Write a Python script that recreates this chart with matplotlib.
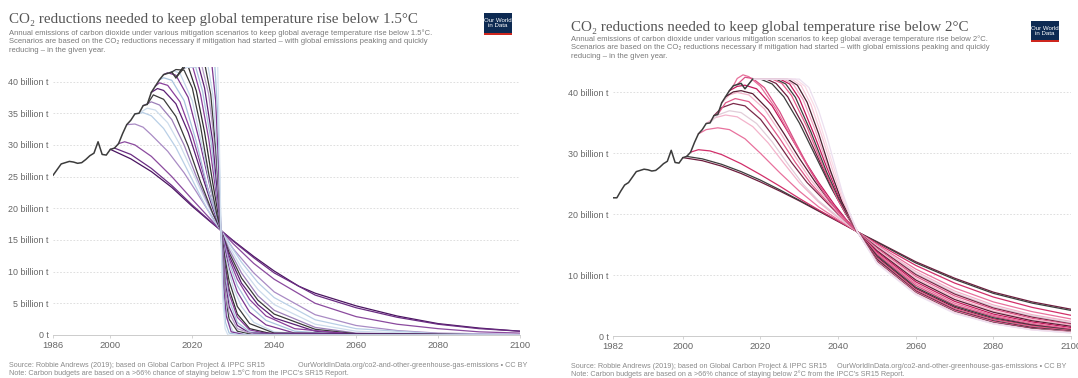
"""
CO2 reductions needed to keep global temperature rise below 1.5C / 2C
Two-panel recreation of the OWID mitigation curves chart.
"""
import matplotlib
matplotlib.use("Agg")
import matplotlib.pyplot as plt
from matplotlib.patches import Rectangle

W, H = 1078, 378

# ---- historical emissions (billion t CO2) ----
hist_years = list(range(1982, 2019))
hist_co2 = [22.7, 22.7, 23.8, 24.8, 25.2, 26.1, 27.0, 27.2, 27.4, 27.3,
            27.1, 27.2, 27.7, 28.3, 28.7, 30.5, 28.5, 28.4, 29.3, 29.5,
            30.2, 31.8, 33.2, 33.9, 34.9, 35.0, 36.2, 36.4, 38.3, 39.3,
            40.3, 41.1, 41.3, 41.5, 40.6, 41.4, 42.2]

# ---- 1.5C scenarios: one (years, values) pair per mitigation start ----
scen15_years = [
    [2000, 2005, 2010, 2015, 2020, 2024, 2027, 2030, 2035, 2040, 2046, 2050, 2060, 2070, 2080, 2090, 2100],
    [2001, 2005, 2010, 2015, 2020, 2024, 2027, 2030, 2035, 2040, 2050, 2060, 2070, 2080, 2090, 2100],
    [2002, 2003.5, 2006, 2010, 2015, 2020, 2024, 2027, 2030, 2035, 2040, 2050, 2060, 2070, 2080, 2090, 2100],
    [2004, 2006, 2008, 2010, 2014, 2018, 2021, 2024, 2027, 2030, 2035, 2040, 2050, 2060, 2070, 2080, 2100],
    [2006, 2008, 2010, 2013, 2016, 2019, 2022, 2025, 2027, 2029, 2032, 2036, 2040, 2050, 2060, 2080, 2100],
    [2007, 2009, 2011, 2014, 2017, 2020, 2023, 2027, 2029, 2032, 2036, 2040, 2050, 2060, 2080, 2100],
    [2008, 2010, 2012, 2015, 2018, 2021, 2024, 2027, 2029, 2032, 2036, 2040, 2050, 2060, 2080, 2100],
    [2009, 2010.5, 2013, 2016, 2019, 2022, 2025, 2027, 2029, 2032, 2036, 2040, 2050, 2060, 2100],
    [2010, 2011.5, 2013, 2016, 2019, 2022, 2025, 2027, 2029, 2032, 2036, 2040, 2050, 2060, 2100],
    [2011, 2012, 2014, 2017, 2020, 2023, 2025, 2027, 2029, 2031, 2034, 2038, 2045, 2060, 2100],
    [2012, 2013, 2015, 2018, 2021, 2024, 2027, 2029, 2031, 2034, 2038, 2045, 2060, 2100],
    [2013, 2014, 2016, 2019, 2022, 2025, 2027, 2029, 2031, 2034, 2038, 2045, 2100],
    [2014, 2015.5, 2017, 2020, 2023, 2025, 2027, 2028, 2030, 2032, 2035, 2040, 2050, 2100],
    [2015, 2016, 2018, 2020, 2022, 2024, 2026, 2027, 2028, 2029, 2031, 2034, 2040, 2100],
    [2016, 2017, 2018, 2019, 2021, 2023, 2025, 2027, 2028, 2029, 2031, 2034, 2040, 2100],
    [2018, 2019, 2020, 2022, 2024, 2026, 2027, 2028, 2029, 2031, 2034, 2040, 2100],
    [2018, 2020, 2020.7, 2022.5, 2024.5, 2026, 2027, 2028, 2029, 2031, 2034, 2040, 2100],
    [2018, 2021, 2021.5, 2023, 2025, 2026.2, 2027, 2028, 2029, 2031, 2034, 2100],
    [2018, 2022, 2022.3, 2024, 2025.5, 2026.5, 2027, 2028, 2029, 2031, 2035, 2100],
    [2018, 2022.8, 2023.1, 2024.5, 2025.8, 2026.6, 2027, 2028, 2029, 2031, 2035, 2100],
    [2018, 2023.5, 2023.8, 2025, 2026, 2026.7, 2027, 2027.8, 2028.6, 2030, 2034, 2100],
    [2018, 2024.5, 2024.8, 2025.7, 2026.4, 2027, 2027.6, 2028.3, 2029.5, 2033, 2100],
    [2018, 2025.3, 2025.5, 2026.2, 2026.7, 2027, 2027.5, 2028.1, 2029, 2032, 2100],
    [2018, 2026.0, 2026.2, 2026.6, 2027, 2027.4, 2028, 2028.7, 2100],
]
scen15_co2 = [
    [29.3, 27.8, 25.8, 23.3, 20.3, 18.1, 16.5, 14.9, 12.4, 10.1, 7.7, 6.6, 4.6, 3.0, 1.8, 1.1, 0.6],
    [29.5, 28.5, 26.3, 23.6, 20.5, 18.2, 16.5, 14.8, 12.2, 9.8, 6.3, 4.3, 2.8, 1.7, 1.0, 0.6],
    [30.2, 30.5, 30.0, 28.2, 25.0, 21.4, 18.6, 16.5, 14.4, 11.3, 8.8, 5.0, 2.9, 1.7, 1.0, 0.5, 0.3],
    [33.2, 33.3, 32.8, 31.6, 29.0, 25.6, 22.6, 19.5, 16.5, 13.6, 9.8, 6.8, 3.2, 1.5, 0.7, 0.3, 0.1],
    [34.9, 35.1, 34.6, 32.6, 29.6, 25.8, 21.9, 18.3, 16.5, 14.5, 11.5, 8.3, 5.9, 2.4, 1.0, 0.2, 0.05],
    [35.0, 35.8, 35.5, 33.5, 30.0, 25.8, 21.5, 16.5, 14.0, 10.6, 7.2, 4.8, 1.7, 0.6, 0.1, 0.0],
    [36.2, 36.8, 36.3, 34.0, 30.0, 25.0, 20.5, 16.5, 13.5, 9.8, 6.2, 3.9, 1.2, 0.3, 0.05, 0.0],
    [36.4, 37.9, 37.2, 34.5, 29.8, 24.2, 19.2, 16.5, 13.0, 9.0, 5.5, 3.3, 0.9, 0.2, 0.0],
    [38.3, 38.9, 38.6, 36.5, 32.0, 26.0, 20.0, 16.5, 12.5, 8.2, 4.8, 2.7, 0.6, 0.1, 0.0],
    [39.3, 39.8, 39.4, 36.8, 31.5, 24.8, 20.5, 16.5, 12.0, 8.8, 5.6, 3.0, 1.0, 0.1, 0.0],
    [40.3, 40.6, 40.2, 37.0, 30.5, 22.5, 16.5, 11.4, 7.8, 4.6, 2.3, 0.6, 0.0, 0.0],
    [41.1, 41.4, 41.0, 37.5, 30.0, 21.5, 16.5, 10.5, 6.8, 3.6, 1.6, 0.3, 0.0],
    [41.3, 41.7, 41.3, 37.0, 28.0, 21.5, 16.5, 12.5, 7.5, 4.5, 2.0, 0.5, 0.0, 0.0],
    [41.5, 41.9, 41.8, 39.0, 33.0, 25.5, 19.0, 16.5, 12.0, 8.5, 4.5, 1.8, 0.3, 0.0],
    [40.6, 41.6, 42.5, 42.4, 38.5, 32.0, 24.0, 16.5, 11.0, 7.2, 3.3, 1.0, 0.1, 0.0],
    [42.2, 42.6, 42.6, 38.0, 31.0, 21.5, 16.5, 10.5, 6.5, 2.8, 0.8, 0.0, 0.0],
    [42.2, 42.6, 42.6, 38.5, 31.0, 22.5, 16.5, 9.5, 5.5, 2.0, 0.5, 0.0, 0.0],
    [42.2, 42.6, 42.6, 39.0, 30.5, 22.0, 16.5, 8.5, 4.5, 1.5, 0.3, 0.0],
    [42.2, 42.6, 42.6, 38.0, 30.0, 21.0, 16.5, 7.5, 3.5, 1.0, 0.1, 0.0],
    [42.2, 42.6, 42.6, 38.0, 29.0, 21.0, 16.5, 6.0, 2.5, 0.6, 0.0, 0.0],
    [42.2, 42.6, 42.6, 38.0, 29.0, 21.0, 16.5, 7.0, 2.5, 0.5, 0.0, 0.0],
    [42.2, 42.6, 42.6, 37.0, 27.0, 16.5, 8.0, 3.0, 0.5, 0.0, 0.0],
    [42.2, 42.6, 42.6, 35.0, 25.0, 16.5, 7.0, 2.0, 0.3, 0.0, 0.0],
    [42.2, 42.6, 42.6, 31.0, 16.5, 6.0, 1.0, 0.0, 0.0],
]

# ---- 2C scenarios ----
scen2_years = [
    [2000, 2005, 2010, 2015, 2020, 2025, 2030, 2035, 2040, 2045, 2050, 2060, 2070, 2080, 2090, 2100],
    [2001, 2005, 2010, 2015, 2020, 2025, 2030, 2035, 2040, 2045, 2050, 2060, 2070, 2080, 2090, 2100],
    [2002, 2004, 2007, 2010, 2015, 2020, 2025, 2030, 2035, 2040, 2045, 2050, 2060, 2070, 2080, 2090, 2100],
    [2004, 2006, 2009, 2012, 2016, 2020, 2025, 2030, 2035, 2040, 2045, 2050, 2060, 2070, 2080, 2090, 2100],
    [2006, 2008, 2011, 2014, 2018, 2022, 2026, 2030, 2035, 2040, 2045, 2050, 2060, 2070, 2080, 2090, 2100],
    [2007, 2009, 2012, 2015, 2019, 2023, 2027, 2031, 2035, 2040, 2045, 2050, 2060, 2070, 2080, 2090, 2100],
    [2008, 2010, 2013, 2016, 2020, 2024, 2028, 2032, 2036, 2040, 2045, 2050, 2060, 2070, 2080, 2090, 2100],
    [2009, 2011, 2013.5, 2017, 2021, 2025, 2029, 2033, 2037, 2041, 2045, 2050, 2060, 2070, 2080, 2090, 2100],
    [2010, 2012, 2014, 2017, 2021, 2025, 2029, 2033, 2037, 2041, 2045, 2050, 2060, 2070, 2080, 2090, 2100],
    [2011, 2013, 2015, 2018, 2022, 2026, 2030, 2034, 2038, 2042, 2045, 2050, 2060, 2070, 2080, 2090, 2100],
    [2012, 2014, 2016, 2019, 2023, 2027, 2031, 2035, 2039, 2042, 2045, 2050, 2060, 2070, 2080, 2090, 2100],
    [2013, 2014, 2015.5, 2017, 2020, 2024, 2028, 2032, 2036, 2040, 2043, 2045, 2050, 2060, 2070, 2080, 2090, 2100],
    [2014, 2016, 2018, 2021, 2025, 2029, 2033, 2037, 2041, 2045, 2050, 2060, 2070, 2080, 2090, 2100],
    [2018, 2020, 2023, 2026, 2030, 2034, 2038, 2042, 2045, 2050, 2060, 2070, 2080, 2090, 2100],
    [2018, 2021.5, 2024, 2027, 2031, 2035, 2039, 2042, 2045, 2050, 2060, 2070, 2080, 2090, 2100],
    [2018, 2023, 2025.5, 2028, 2032, 2036, 2040, 2043, 2045, 2050, 2060, 2070, 2080, 2090, 2100],
    [2018, 2024, 2026.5, 2029, 2033, 2037, 2040, 2043, 2045, 2050, 2060, 2070, 2080, 2090, 2100],
    [2018, 2025, 2027.5, 2030, 2034, 2037, 2040, 2043, 2045, 2050, 2060, 2070, 2080, 2090, 2100],
    [2018, 2026, 2028.5, 2031, 2034, 2037, 2040, 2043, 2045, 2050, 2060, 2070, 2080, 2090, 2100],
    [2018, 2027, 2029.5, 2032, 2035, 2038, 2041, 2043, 2045, 2050, 2060, 2070, 2080, 2090, 2100],
    [2018, 2028, 2030.5, 2033, 2036, 2039, 2041, 2043, 2045, 2050, 2060, 2070, 2080, 2090, 2100],
    [2018, 2029, 2031.5, 2034, 2037, 2039, 2041, 2043, 2045, 2050, 2060, 2070, 2080, 2090, 2100],
    [2018, 2030, 2032.5, 2035, 2037, 2039, 2041, 2043, 2045, 2050, 2060, 2070, 2080, 2090, 2100],
]
scen2_co2 = [
    [29.3, 28.8, 27.9, 26.7, 25.3, 23.8, 22.2, 20.5, 18.8, 17.1, 15.5, 12.2, 9.5, 7.2, 5.6, 4.4],
    [29.5, 29.1, 28.2, 27.0, 25.6, 24.0, 22.3, 20.6, 18.9, 17.1, 15.4, 12.0, 9.3, 7.0, 5.4, 4.2],
    [30.2, 30.6, 30.4, 29.8, 28.3, 26.5, 24.6, 22.6, 20.7, 18.9, 17.1, 15.2, 11.6, 8.7, 6.4, 4.7, 3.4],
    [33.2, 33.9, 34.2, 33.9, 32.4, 30.0, 26.8, 23.8, 21.2, 19.1, 17.1, 15.0, 11.0, 7.9, 5.6, 4.0, 2.8],
    [34.9, 35.8, 36.3, 36.0, 34.4, 31.7, 28.4, 25.2, 22.0, 19.4, 17.1, 14.8, 10.6, 7.4, 5.1, 3.5, 2.4],
    [35.0, 36.3, 37.0, 36.7, 34.9, 31.9, 28.3, 24.9, 22.2, 19.6, 17.1, 14.7, 10.3, 7.1, 4.8, 3.3, 2.2],
    [36.2, 37.5, 38.2, 37.8, 35.6, 32.2, 28.5, 25.2, 22.6, 20.0, 17.1, 14.6, 10.1, 6.9, 4.6, 3.1, 2.0],
    [36.4, 38.3, 39.0, 38.5, 36.0, 32.4, 28.5, 25.0, 22.2, 19.4, 17.1, 14.4, 9.8, 6.6, 4.4, 2.9, 1.9],
    [38.3, 39.6, 40.0, 39.6, 37.3, 33.5, 29.4, 25.6, 22.5, 19.6, 17.1, 14.2, 9.5, 6.3, 4.1, 2.7, 1.8],
    [39.3, 40.1, 40.3, 39.8, 37.2, 33.3, 29.2, 25.4, 22.0, 19.1, 17.1, 14.0, 9.2, 6.0, 3.9, 2.5, 1.6],
    [40.3, 41.0, 41.2, 40.6, 37.8, 33.6, 29.2, 25.2, 21.6, 19.2, 17.1, 13.8, 8.9, 5.7, 3.6, 2.3, 1.4],
    [41.1, 42.3, 42.9, 42.6, 41.0, 37.3, 32.6, 28.0, 23.9, 20.4, 18.4, 17.1, 13.6, 8.6, 5.4, 3.4, 2.1, 1.2],
    [41.3, 42.5, 42.3, 40.8, 36.8, 31.8, 27.0, 22.9, 19.7, 17.1, 13.4, 8.3, 5.1, 3.2, 1.9, 1.1],
    [42.2, 42.2, 41.4, 39.3, 35.0, 29.8, 24.6, 20.0, 17.1, 13.2, 8.0, 4.9, 3.0, 1.8, 1.0],
    [42.2, 42.2, 41.5, 39.3, 34.6, 29.0, 23.6, 20.1, 17.1, 13.0, 7.8, 4.7, 2.8, 1.7, 0.9],
    [42.2, 42.2, 41.5, 39.5, 34.3, 28.0, 22.3, 19.0, 17.1, 12.8, 7.6, 4.5, 2.7, 1.6, 0.9],
    [42.2, 42.2, 41.4, 39.2, 33.5, 27.0, 22.8, 19.2, 17.1, 12.6, 7.4, 4.3, 2.5, 1.4, 0.8],
    [42.2, 42.2, 41.4, 39.0, 32.8, 27.8, 23.2, 19.4, 17.1, 12.4, 7.3, 4.2, 2.4, 1.3, 0.7],
    [42.2, 42.2, 41.3, 38.8, 34.0, 28.5, 23.6, 19.5, 17.1, 12.3, 7.2, 4.1, 2.3, 1.2, 0.7],
    [42.2, 42.2, 41.2, 38.4, 33.2, 27.2, 22.0, 19.6, 17.1, 12.2, 7.1, 4.0, 2.2, 1.2, 0.6],
    [42.2, 42.2, 41.1, 38.0, 32.5, 26.4, 22.6, 19.8, 17.1, 12.1, 7.0, 3.9, 2.1, 1.1, 0.6],
    [42.2, 42.2, 41.0, 37.6, 31.5, 27.4, 23.2, 20.0, 17.1, 12.0, 6.9, 3.8, 2.0, 1.0, 0.5],
    [42.2, 42.2, 40.8, 37.0, 33.0, 28.4, 23.8, 20.2, 17.1, 11.9, 6.8, 3.7, 2.0, 1.0, 0.5],
]

# ---- axis ticks / labels ----
yticks15 = [0, 5, 10, 15, 20, 25, 30, 35, 40]
ylabels15 = ["0 t", "5 billion t", "10 billion t", "15 billion t", "20 billion t",
             "25 billion t", "30 billion t", "35 billion t", "40 billion t"]
xticks15 = [1986, 2000, 2020, 2040, 2060, 2080, 2100]
yticks2 = [0, 10, 20, 30, 40]
ylabels2 = ["0 t", "10 billion t", "20 billion t", "30 billion t", "40 billion t"]
xticks2 = [1982, 2000, 2020, 2040, 2060, 2080, 2100]

titles = ["CO\u2082 reductions needed to keep global temperature rise below 1.5\u00b0C",
          "CO\u2082 reductions needed to keep global temperature rise below 2\u00b0C"]
subtitles = [
    "Annual emissions of carbon dioxide under various mitigation scenarios to keep global average temperature rise below 1.5\u00b0C.\n"
    "Scenarios are based on the CO\u2082 reductions necessary if mitigation had started \u2013 with global emissions peaking and quickly\n"
    "reducing \u2013 in the given year.",
    "Annual emissions of carbon dioxide under various mitigation scenarios to keep global average temperature rise below 2\u00b0C.\n"
    "Scenarios are based on the CO\u2082 reductions necessary if mitigation had started \u2013 with global emissions peaking and quickly\n"
    "reducing \u2013 in the given year.",
]
source_txt = "Source: Robbie Andrews (2019); based on Global Carbon Project & IPPC SR15"
url_txt = "OurWorldInData.org/co2-and-other-greenhouse-gas-emissions \u2022 CC BY"
notes = ["Note: Carbon budgets are based on a >66% chance of staying below 1.5\u00b0C from the IPCC's SR15 Report.",
         "Note: Carbon budgets are based on a >66% chance of staying below 2\u00b0C from the IPCC's SR15 Report."]

# line colours (cycled)
purples = ["#4a1460", "#6a2c82", "#8b4a9e", "#a98bc4", "#b9cfe6", "#cddcec", "#9c7fb8",
           "#3a3a3a", "#5b1f74", "#8a3f9c", "#a9c4de", "#7b3590", "#c5d7ea", "#3a3a3a",
           "#2e2e2e", "#8a3f9c", "#a9c4de", "#5b1f74", "#b79cc9", "#3a3a3a", "#c5d7ea",
           "#7b3590", "#a9c4de", "#d6e3f1"]
pinks = ["#6e1d3e", "#3d3d3d", "#d12f6a", "#e8719d", "#f3b3cb", "#e2cdd9", "#7a2848",
         "#e05a8a", "#f4b6cc", "#5a1e35", "#c2185b", "#e7719b", "#d94f85", "#3d3d3d",
         "#6e1d3e", "#e8608f", "#3d3d3d", "#c2185b", "#f2a7c3", "#4a2030", "#f7c6d8",
         "#fadbe6", "#ece0f0"]

SERIF = ["Liberation Serif", "DejaVu Serif"]
SANS = ["Liberation Sans", "DejaVu Sans"]


def px(x, y):
    """pixel coords (top-left origin) -> figure fraction"""
    return x / W, 1 - y / H


def draw_panel(fig, rect, xlim, ylim, yticks, ylabels, xticks, s_years, s_vals, colors):
    ax = fig.add_axes(rect)
    for yrs, vals, c in zip(s_years, s_vals, colors):
        ax.plot(yrs, vals, color=c, lw=0.9)
    ax.plot(hist_years, hist_co2, color="#3c3c3c", lw=1.1)
    ax.set_xlim(*xlim)
    ax.set_ylim(*ylim)
    ax.set_yticks(yticks)
    ax.set_yticklabels(ylabels)
    ax.set_xticks(xticks)
    ax.grid(axis="y", ls=(0, (2, 2)), color="#d9d9d9", lw=0.6)
    ax.set_axisbelow(True)
    for s in ["top", "right", "left"]:
        ax.spines[s].set_visible(False)
    ax.spines["bottom"].set_color("#cccccc")
    ax.spines["bottom"].set_linewidth(0.7)
    ax.tick_params(axis="y", length=0, pad=3, labelsize=6.4, labelcolor="#666666")
    ax.tick_params(axis="x", length=2.5, width=0.6, color="#cccccc", pad=1.5,
                   labelsize=6.8, labelcolor="#666666")
    for lab in ax.get_xticklabels() + ax.get_yticklabels():
        lab.set_family(SANS)
    return ax


def logo(fig, x0, y0, x1, y1):
    fx0, fy1 = px(x0, y0)
    fx1, fy0 = px(x1, y1)
    fig.patches.append(Rectangle((fx0, fy0), fx1 - fx0, fy1 - fy0, transform=fig.transFigure,
                                 facecolor="#0d2a52", edgecolor="none"))
    fig.patches.append(Rectangle((fx0, fy0), fx1 - fx0, 2.2 / H, transform=fig.transFigure,
                                 facecolor="#ce261e", edgecolor="none"))
    fig.text((fx0 + fx1) / 2, (fy0 + fy1) / 2 + 0.6 / H, "Our World\nin Data", color="white",
             ha="center", va="center", fontsize=4.4, family=SANS, linespacing=1.0)


fig = plt.figure(figsize=(W / 100, H / 100), dpi=100)

# left panel (1.5C)
draw_panel(fig, [53 / W, 43 / H, 467 / W, 268 / H], (1986, 2100), (0, 42.3),
           yticks15, ylabels15, xticks15, scen15_years, scen15_co2, purples)
# right panel (2C)
draw_panel(fig, [613 / W, 42 / H, 458 / W, 263 / H], (1982, 2100), (0, 43.2),
           yticks2, ylabels2, xticks2, scen2_years, scen2_co2, pinks)

# header / footer text
for i, (x0, ty, sy, lg) in enumerate([(9, 20, 29.5, (484, 13, 512, 35)),
                                       (571, 27, 35.5, (1031, 21, 1059, 42))]):
    fig.text(*px(x0, ty), titles[i], fontsize=10.8, family=SERIF, color="#555555", va="center")
    fig.text(*px(x0, sy), subtitles[i], fontsize=5.5, family=SANS, color="#7a7a7a",
             va="top", linespacing=1.25)
    logo(fig, *lg)

for x0, xr, fy in [(9, 527, 365.5), (571, 1066, 366)]:
    fig.text(*px(x0, fy), source_txt, fontsize=5.2, family=SANS, color="#8a8a8a", va="center")
    fig.text(*px(xr, fy), url_txt, fontsize=5.2, family=SANS, color="#8a8a8a", va="center", ha="right")
fig.text(*px(9, 373.3), notes[0], fontsize=5.2, family=SANS, color="#8a8a8a", va="center")
fig.text(*px(571, 373.8), notes[1], fontsize=5.2, family=SANS, color="#8a8a8a", va="center")

fig.savefig("out.png", dpi=100)
